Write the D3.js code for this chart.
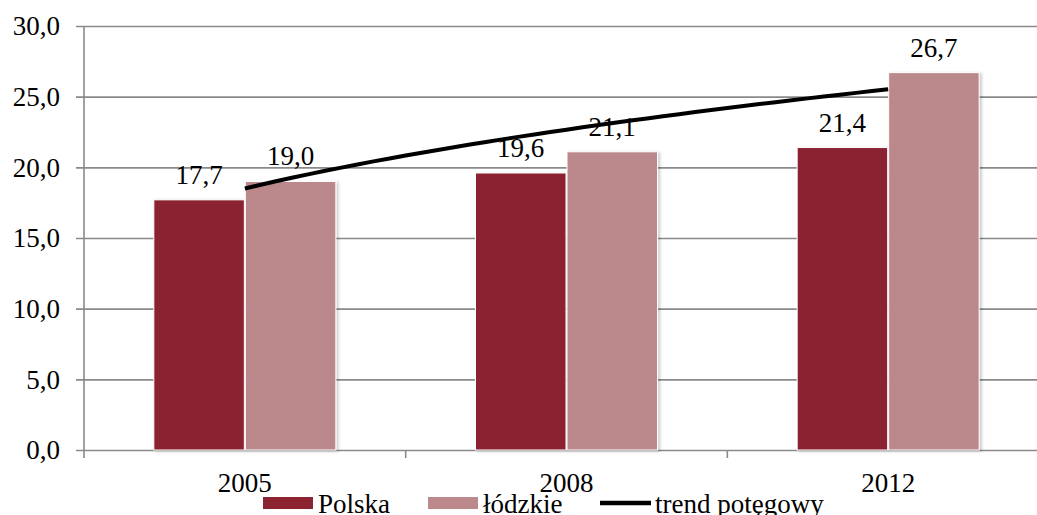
<!DOCTYPE html>
<html>
<head>
<meta charset="utf-8">
<script src="https://cdn.jsdelivr.net/npm/d3@7"></script>
<style>
  body { margin: 0; background: #fff; }
  text { font-family: "Liberation Serif", "Times New Roman", serif; fill: #000; }
</style>
</head>
<body>
<svg id="chart" width="1037" height="515"></svg>
<script>
var years = ['2005', '2008', '2012'],
    seriesNames = ['Polska', 'łódzkie'],
    polska = [17.7, 19.6, 21.4],
    lodzkie = [19.0, 21.1, 26.7],
    yTicks = [0, 5, 10, 15, 20, 25, 30],
    colors = ['#8b2330', '#bb898b'],
    trendLabel = 'trend potęgowy';

var svg = d3.select('#chart'),
    plotLeft = 84, plotRight = 1049, plotTop = 26, plotBottom = 450,
    fmt = function (v){ return d3.format('.1f')(v).replace('.', ','); };

var x0 = d3.scaleBand().domain(years).range([plotLeft, plotRight]),
    x1 = d3.scaleBand().domain(seriesNames).range([0, x0.bandwidth()])
        .paddingInner(0.011).paddingOuter(0.763),
    y = d3.scaleLinear().domain([0, 30]).range([plotBottom, plotTop]);

var defs = svg.append('defs');
defs.append('filter').attr('id', 'shadow')
    .attr('x', '-10%').attr('y', '-10%').attr('width', '130%').attr('height', '130%')
    .append('feDropShadow')
        .attr('dx', 2).attr('dy', 1)
        .attr('stdDeviation', 1.8)
        .attr('flood-color', '#000')
        .attr('flood-opacity', 0.22);

/* grid + y axis */
var yAxis = svg.append('g')
    .attr('transform', 'translate(' + plotLeft + ',0)')
    .call(d3.axisLeft(y).tickValues(yTicks).tickFormat(fmt)
        .tickSizeInner(-(1037 - plotLeft)).tickSizeOuter(0).tickPadding(16));
yAxis.select('.domain').remove();
yAxis.selectAll('.tick line')
    .attr('x1', -8)
    .attr('stroke', '#8a8a8a').attr('stroke-width', 1.6);
yAxis.selectAll('.tick text')
    .attr('x', -24)
    .style('font-size', '27px')
    .attr('dy', '0.33em');

svg.append('line')
    .attr('x1', plotLeft).attr('x2', plotLeft)
    .attr('y1', plotTop).attr('y2', plotBottom + 8)
    .attr('stroke', '#8a8a8a').attr('stroke-width', 1.6);

/* x axis ticks */
svg.append('g').selectAll('line')
    .data(years)
    .enter()
    .append('line')
    .attr('x1', function (d){ return x0(d) + x0.bandwidth(); })
    .attr('x2', function (d){ return x0(d) + x0.bandwidth(); })
    .attr('y1', plotBottom).attr('y2', plotBottom + 8)
    .attr('stroke', '#8a8a8a').attr('stroke-width', 1.6);

svg.append('g').selectAll('text')
    .data(years)
    .enter()
    .append('text')
    .attr('x', function (d){ return x0(d) + x0.bandwidth() / 2; })
    .attr('y', 492)
    .attr('text-anchor', 'middle')
    .style('font-size', '27px')
    .text(function (d){ return d; });

/* bars */
var rows = years.map(function (yr, i){
    return {year: yr, values: [polska[i], lodzkie[i]]};
});

var groups = svg.append('g').selectAll('g')
    .data(rows)
    .enter()
    .append('g')
    .attr('transform', function (d){ return 'translate(' + x0(d.year) + ',0)'; });

groups.selectAll('rect')
    .data(function (d){ return d.values.map(function (v, j){ return {name: seriesNames[j], v: v, j: j}; }); })
    .enter()
    .append('rect')
    .attr('x', function (d){ return x1(d.name); })
    .attr('width', x1.bandwidth())
    .attr('y', function (d){ return y(d.v); })
    .attr('height', function (d){ return plotBottom - y(d.v); })
    .attr('fill', function (d){ return colors[d.j]; })
    .attr('stroke', '#fff').attr('stroke-width', 1)
    .style('filter', 'url(#shadow)');

groups.selectAll('text')
    .data(function (d){ return d.values.map(function (v, j){ return {name: seriesNames[j], v: v}; }); })
    .enter()
    .append('text')
    .attr('x', function (d){ return x1(d.name) + x1.bandwidth() / 2; })
    .attr('y', function (d){ return y(d.v) - 16; })
    .attr('text-anchor', 'middle')
    .style('font-size', '27px')
    .text(function (d){ return fmt(d.v); });

/* power trend fitted to łódzkie: y = a * x^b */
var lx = lodzkie.map(function (v, i){ return Math.log(i + 1); }),
    ly = lodzkie.map(function (v){ return Math.log(v); }),
    mx = d3.mean(lx), my = d3.mean(ly),
    b = d3.sum(lx, function (v, i){ return (v - mx) * (ly[i] - my); }) /
        d3.sum(lx, function (v){ return (v - mx) * (v - mx); }),
    a = Math.exp(my - b * mx);

var tx = d3.scaleLinear().domain([1, 3])
    .range([x0(years[0]) + x0.bandwidth() / 2, x0(years[2]) + x0.bandwidth() / 2]);

svg.append('path')
    .datum(d3.range(1, 3.001, 0.05))
    .attr('fill', 'none')
    .attr('stroke', '#000')
    .attr('stroke-width', 4)
    .attr('d', d3.line()
        .x(function (t){ return tx(t); })
        .y(function (t){ return y(a * Math.pow(t, b)); }));

/* legend */
var legend = svg.append('g');
var items = [
    {label: seriesNames[0], x: 263, kind: 'rect', color: colors[0]},
    {label: seriesNames[1], x: 428, kind: 'rect', color: colors[1]},
    {label: trendLabel, x: 600, kind: 'line', color: '#000'}
];
items.forEach(function (it){
    if(it.kind === 'rect'){
        legend.append('rect')
            .attr('x', it.x).attr('y', 497)
            .attr('width', 50).attr('height', 12)
            .attr('fill', it.color);
    } else {
        legend.append('line')
            .attr('x1', it.x).attr('x2', it.x + 51)
            .attr('y1', 503).attr('y2', 503)
            .attr('stroke', it.color).attr('stroke-width', 4.5);
    }
    legend.append('text')
        .attr('x', it.x + 55).attr('y', 513)
        .style('font-size', '27px')
        .text(it.label);
});
</script>
</body>
</html>
